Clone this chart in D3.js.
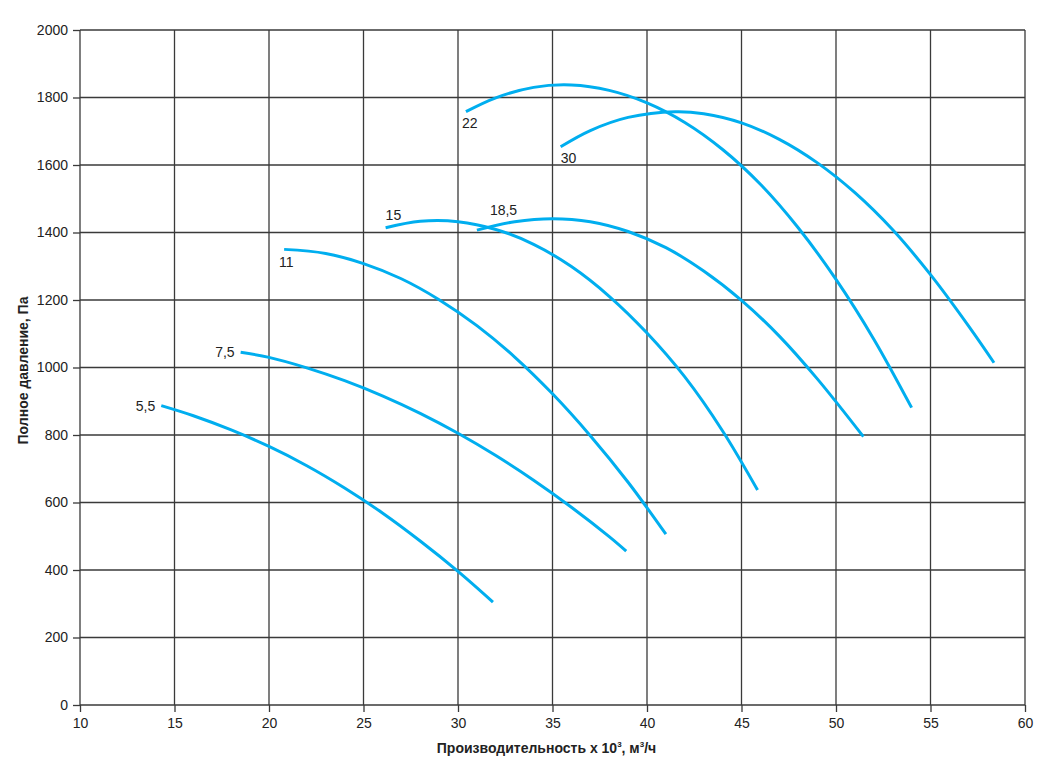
<!DOCTYPE html>
<html>
<head>
<meta charset="utf-8">
<script src="https://cdn.jsdelivr.net/npm/d3@7"></script>
<style>
  body { margin: 0; background: #fff; }
  svg { display: block; font-family: "Liberation Sans", Arial, sans-serif; }
</style>
</head>
<body>
<svg width="1050" height="775"></svg>
<script>
// Fan curves: flow (x 10^3 m3/h) vs total pressure (Pa), one curve per motor power (kW)
const xTicks = [10, 15, 20, 25, 30, 35, 40, 45, 50, 55, 60];
const yTicks = [0, 200, 400, 600, 800, 1000, 1200, 1400, 1600, 1800, 2000];

const powers = ["5,5", "7,5", "11", "15", "18,5", "22", "30"];

const curve55 = [[14.3, 887], [16, 857], [18, 815], [20, 766], [22, 709], [24, 643], [26, 569], [28, 486], [30, 396], [31.85, 305]];
const curve75 = [[18.5, 1045], [20, 1030], [22, 999], [24, 961], [26, 916], [28, 864], [30, 805], [32, 739], [34, 666], [36, 586], [38, 499], [38.9, 456]];
const curve11 = [[20.8, 1350], [23, 1338], [25, 1308], [27, 1263], [29, 1201], [31, 1124], [33, 1031], [35, 922], [37, 798], [39, 660], [41, 506]];
const curve15 = [[26.17, 1414], [28, 1433], [30, 1432], [32, 1409], [34, 1365], [36, 1299], [38, 1211], [40, 1102], [42, 972], [44, 812], [45.85, 637]];
const curve185 = [[31.0, 1407], [33, 1432], [35, 1441], [37, 1432], [39, 1403], [41, 1355], [43, 1286], [45, 1199], [47, 1093], [49, 967], [51.45, 795]];
const curve22 = [[30.42, 1758], [32, 1799], [34, 1830], [36, 1837], [38, 1821], [40, 1784], [42, 1726], [44, 1646], [46, 1543], [48, 1414], [50, 1261], [52, 1084], [54, 881]];
const curve30 = [[35.43, 1654], [37, 1702], [39, 1741], [41.5, 1758], [43, 1752], [45, 1725], [47, 1676], [49, 1607], [51, 1518], [53, 1408], [55, 1275], [57, 1124], [58.36, 1014]];

const curves = [curve55, curve75, curve11, curve15, curve185, curve22, curve30];

const svg = d3.select("svg");
const width = +svg.attr("width");
const height = +svg.attr("height");
const margin = { top: 30, right: 25, bottom: 70, left: 80 };
const innerWidth = width - margin.left - margin.right;
const innerHeight = height - margin.top - margin.bottom;

const g = svg.append("g")
  .attr("transform", `translate(${margin.left},${margin.top})`);

const x = d3.scaleLinear().domain([10, 60]).range([0, innerWidth]);
const y = d3.scaleLinear().domain([0, 2000]).range([innerHeight, 0]);

// grid
g.append("g").selectAll("line")
  .data(xTicks)
  .join("line")
    .attr("x1", d => x(d)).attr("x2", d => x(d))
    .attr("y1", 0).attr("y2", innerHeight)
    .attr("stroke", "#3a3a3a").attr("stroke-width", 1.3);

g.append("g").selectAll("line")
  .data(yTicks)
  .join("line")
    .attr("x1", 0).attr("x2", innerWidth)
    .attr("y1", d => y(d)).attr("y2", d => y(d))
    .attr("stroke", "#3a3a3a").attr("stroke-width", 1.3);

// axes
const xAxis = g.append("g")
  .attr("transform", `translate(0,${innerHeight})`)
  .call(d3.axisBottom(x).tickValues(xTicks).tickFormat(d3.format("d")).tickSize(7).tickPadding(6));
const yAxis = g.append("g")
  .call(d3.axisLeft(y).tickValues(yTicks).tickFormat(d3.format("d")).tickSize(7).tickPadding(5));

[xAxis, yAxis].forEach(a => {
  a.select(".domain").remove();
  a.selectAll(".tick line").attr("stroke", "#3a3a3a").attr("stroke-width", 1.3);
  a.selectAll(".tick text")
    .attr("fill", "#222")
    .style("font-size", "14px")
    .style("font-family", "'Liberation Sans', Arial, sans-serif");
});

// curves
const line = d3.line()
  .x(d => x(d[0]))
  .y(d => y(d[1]))
  .curve(d3.curveCatmullRom.alpha(0.5));

g.append("g").selectAll("path")
  .data(curves)
  .join("path")
    .attr("d", line)
    .attr("fill", "none")
    .attr("stroke", "#00aeef")
    .attr("stroke-width", 3);

// power labels next to the start of each curve
const labelOffset = {
  "5,5": { dx: -6, dy: 5, anchor: "end" },
  "7,5": { dx: -6, dy: 5, anchor: "end" },
  "11": { dx: -5, dy: 18, anchor: "start" },
  "15": { dx: 0, dy: -8, anchor: "start" },
  "18,5": { dx: 13, dy: -15, anchor: "start" },
  "22": { dx: -4, dy: 16, anchor: "start" },
  "30": { dx: 0, dy: 16, anchor: "start" }
};

g.append("g").selectAll("text")
  .data(powers)
  .join("text")
    .attr("x", (d, i) => x(curves[i][0][0]) + labelOffset[d].dx)
    .attr("y", (d, i) => y(curves[i][0][1]) + labelOffset[d].dy)
    .attr("text-anchor", d => labelOffset[d].anchor)
    .attr("fill", "#222")
    .style("font-size", "14px")
    .text(d => d);

// axis titles
const xTitle = svg.append("text")
  .attr("x", margin.left + innerWidth / 2 - 6)
  .attr("y", height - 22)
  .attr("text-anchor", "middle")
  .attr("fill", "#222")
  .style("font-size", "14px")
  .style("font-weight", "bold");
xTitle.append("tspan").text("Производительность х 10");
xTitle.append("tspan").attr("dy", -6).style("font-size", "8px").text("3");
xTitle.append("tspan").attr("dy", 6).text(", м");
xTitle.append("tspan").attr("dy", -6).style("font-size", "8px").text("3");
xTitle.append("tspan").attr("dy", 6).text("/ч");

svg.append("text")
  .attr("transform", `translate(28,${margin.top + innerHeight / 2 + 3}) rotate(-90)`)
  .attr("text-anchor", "middle")
  .attr("fill", "#222")
  .style("font-size", "14px")
  .style("font-weight", "bold")
  .text("Полное давление, Па");
</script>
</body>
</html>
